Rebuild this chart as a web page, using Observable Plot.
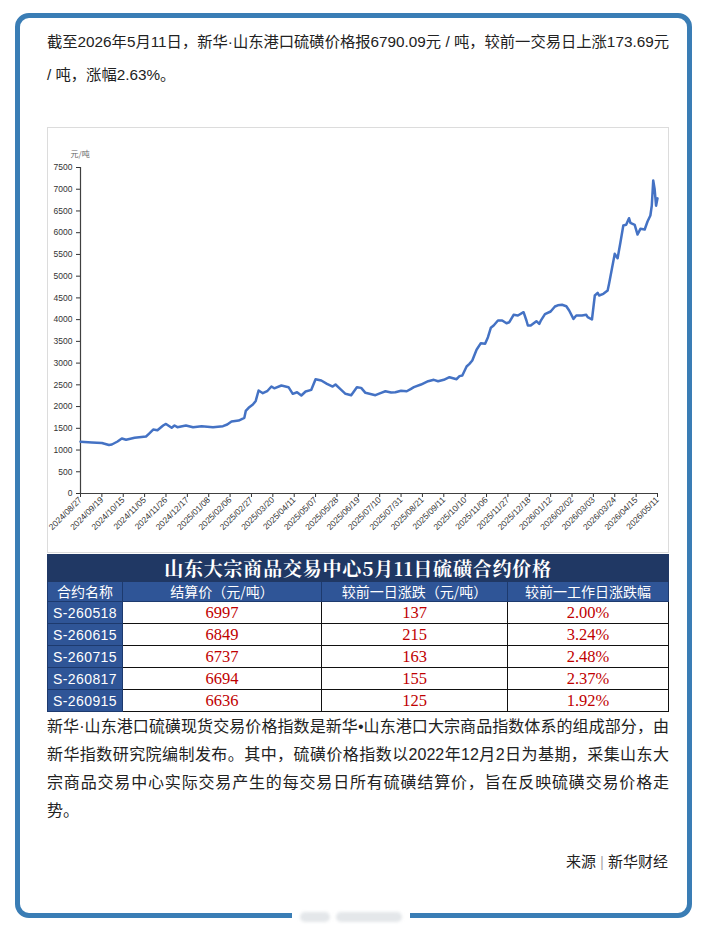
<!DOCTYPE html>
<html>
<head>
<meta charset="utf-8">
<script src="https://cdn.jsdelivr.net/npm/d3@7"></script>
<script src="https://cdn.jsdelivr.net/npm/@observablehq/plot@0.6"></script>
<style>
html,body{margin:0;padding:0;background:#fff;}
body{width:707px;height:936px;position:relative;overflow:hidden;font-family:"Liberation Sans","Noto Sans CJK SC",sans-serif;color:#333;}
.frame{position:absolute;left:15px;top:13px;width:667px;height:895px;border:5px solid #3a7db5;border-radius:14px;}
.wm{position:absolute;left:292px;top:906px;width:118px;height:22px;background:#fff;}
.wm span{position:absolute;top:6px;height:10px;border-radius:5px;background:#e4e7ea;filter:blur(1.5px);}
#p1{position:absolute;left:47px;top:25px;width:624px;font-size:15.3px;line-height:33px;color:#222;}
#chart{position:absolute;left:47px;top:127px;width:620px;height:424px;border:1px solid #dcdcdc;background:#fff;}
#chart svg{display:block;}
#tbl{position:absolute;left:47px;top:554px;width:621px;border-collapse:collapse;table-layout:fixed;font-family:"Noto Sans CJK SC",sans-serif;}
#tbl td{padding:0;text-align:center;border:1px solid #111;white-space:nowrap;overflow:hidden;}
#tbl .title td{background:#203864;color:#fff;font-family:"Noto Serif CJK SC","Noto Sans CJK SC",serif;font-weight:bold;font-size:19px;height:26px;line-height:26px;border-color:#203864;letter-spacing:0.8px;}
#tbl .head td{background:#2f5597;color:#fff;font-size:14px;height:19px;line-height:19px;border-color:#1d3a6e;}
#tbl td.first{background:#2f5597;color:#fff;font-size:14px;border-color:#1d3a6e;letter-spacing:0.4px;font-family:"Liberation Sans",sans-serif;}
#tbl td.num{color:#c00000;font-family:"Liberation Serif","Times New Roman",serif;font-size:16.5px;height:21px;line-height:21px;}
#p2{position:absolute;left:47px;top:713px;width:622px;font-size:16px;line-height:28px;color:#222;text-align:justify;}
#src{position:absolute;right:39px;top:849px;font-size:15px;line-height:26px;color:#222;}
#src i{font-style:normal;color:#aaa;margin:0 4px;}
</style>
</head>
<body>
<div class="frame"></div>
<div class="wm"><span style="left:8px;width:30px"></span><span style="left:44px;width:66px"></span></div>

<div id="p1">截至2026年5月11日，新华·山东港口硫磺价格报6790.09元 / 吨，较前一交易日上涨173.69元 / 吨，涨幅2.63%。</div>

<div id="chart"></div>

<table id="tbl"></table>

<div id="p2">新华·山东港口硫磺现货交易价格指数是新华•山东港口大宗商品指数体系的组成部分，由新华指数研究院编制发布。其中，硫磺价格指数以2022年12月2日为基期，采集山东大宗商品交易中心实际交易产生的每交易日所有硫磺结算价，旨在反映硫磺交易价格走势。</div>

<div id="src">来源<i>|</i>新华财经</div>

<script>
// ---- chart data (trading-day number since 2024/08/27, price in 元/吨) ----
const tradingDay = [0,8,15,20,22,26,29,32,38,46,48,51,54,58,60,64,66,68,74,79,85,93,100,103,106,111,115,116,118,121,123,125,128,131,134,136,141,146,149,152,155,158,162,165,169,173,177,179,183,186,190,194,197,200,207,211,214,218,221,225,229,232,234,239,244,248,251,255,259,264,266,268,271,273,275,278,281,284,286,288,290,293,296,299,301,304,307,311,313,314,316,320,322,323,326,330,333,335,338,341,343,346,348,352,355,356,359,361,363,364,367,370,371,373,375,377,379,381,383,385,386,389,391,393,396,398,400,401,402,403,404,405];
const priceIndex = [1190,1175,1160,1115,1127,1196,1265,1235,1281,1311,1373,1470,1455,1564,1600,1511,1564,1526,1564,1526,1549,1526,1549,1587,1656,1679,1740,1900,1971,2047,2130,2369,2307,2353,2461,2420,2484,2446,2293,2330,2254,2346,2385,2630,2600,2523,2461,2507,2385,2293,2262,2446,2430,2316,2262,2316,2353,2323,2330,2362,2353,2408,2446,2507,2583,2615,2583,2615,2676,2630,2700,2715,2922,2983,3060,3306,3458,3444,3596,3812,3865,3980,3980,3918,3941,4111,4095,4171,3980,3865,3865,3964,3903,3970,4125,4187,4302,4330,4341,4309,4210,4018,4095,4095,4111,4057,4003,4555,4617,4555,4594,4670,4824,5169,5514,5413,5781,6165,6181,6333,6227,6181,5958,6089,6073,6257,6395,6625,7200,7000,6620,6790];
const xTickLabels = ["2024/08/27","2024/09/19","2024/10/15","2024/11/05","2024/11/26","2024/12/17","2025/01/08","2025/02/06","2025/02/27","2025/03/20","2025/04/11","2025/05/07","2025/05/28","2025/06/19","2025/07/10","2025/07/31","2025/08/21","2025/09/11","2025/10/10","2025/11/06","2025/11/27","2025/12/18","2026/01/12","2026/02/02","2026/03/03","2026/03/24","2026/04/15","2026/05/11"];
const tickStep = 15; // one label every 15 trading days
const yTicks = [0,500,1000,1500,2000,2500,3000,3500,4000,4500,5000,5500,6000,6500,7000,7500];
const unitLabel = "元/吨";

// ---- table data ----
const tableTitle = "山东大宗商品交易中心5月11日硫磺合约价格";
const tableHeaders = ["合约名称","结算价（元/吨）","较前一日涨跌（元/吨）","较前一工作日涨跌幅"];
const contracts = ["S-260518","S-260615","S-260715","S-260817","S-260915"];
const settlePrices = [6997,6849,6737,6694,6636];
const dailyChanges = [137,215,163,155,125];
const changePcts = ["2.00%","3.24%","2.48%","2.37%","1.92%"];

const series = tradingDay.map((d, i) => ({day: d, price: priceIndex[i]}));
const xTicks = xTickLabels.map((_, i) => i * tickStep);

const chart = Plot.plot({
  width: 620,
  height: 424,
  marginLeft: 32,
  marginTop: 39,
  marginRight: 11,
  marginBottom: 59,
  style: {fontSize: "8.5px", fontFamily: "'Liberation Sans', Arial, sans-serif", background: "#fff", color: "#333"},
  x: {domain: [0, (xTickLabels.length - 1) * tickStep], label: null},
  y: {domain: [0, 7500], label: null},
  marks: [
    Plot.axisY({ticks: yTicks, tickFormat: d => String(d), tickSize: 4, tickPadding: 4, label: null, color: "#333"}),
    Plot.axisX({ticks: xTicks, tickFormat: d => xTickLabels[Math.round(d / tickStep)], tickRotate: -45, tickSize: 4, tickPadding: 1, label: null, color: "#333"}),
    Plot.ruleX([0], {stroke: "#404040", strokeWidth: 1.2}),
    Plot.ruleY([0], {stroke: "#404040", strokeWidth: 1.2}),
    Plot.line(series, {x: "day", y: "price", stroke: "#4472c4", strokeWidth: 2.5, strokeLinejoin: "round", curve: "linear"}),
    Plot.text([unitLabel], {frameAnchor: "top-left", dx: -10, dy: -16, fontSize: 8, fill: "#666", fontFamily: "'Noto Sans CJK SC', sans-serif"})
  ]
});
document.getElementById("chart").appendChild(chart);

// ---- table ----
const tbl = document.getElementById("tbl");
const cg = document.createElement("colgroup");
[75, 199, 186, 161].forEach(w => { const c = document.createElement("col"); c.style.width = w + "px"; cg.appendChild(c); });
tbl.appendChild(cg);
const trT = document.createElement("tr"); trT.className = "title";
const tdT = document.createElement("td"); tdT.colSpan = 4; tdT.textContent = tableTitle; trT.appendChild(tdT); tbl.appendChild(trT);
const trH = document.createElement("tr"); trH.className = "head";
tableHeaders.forEach(h => { const td = document.createElement("td"); td.textContent = h; trH.appendChild(td); });
tbl.appendChild(trH);
contracts.forEach((c, i) => {
  const tr = document.createElement("tr");
  const cells = [c, settlePrices[i], dailyChanges[i], changePcts[i]];
  cells.forEach((v, j) => {
    const td = document.createElement("td");
    td.className = j === 0 ? "first" : "num";
    td.textContent = v;
    tr.appendChild(td);
  });
  tbl.appendChild(tr);
});
</script>
</body>
</html>
